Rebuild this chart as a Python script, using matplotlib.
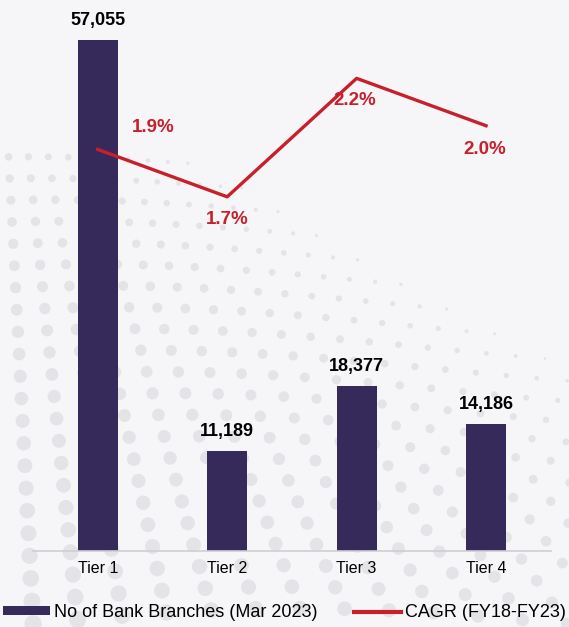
import numpy as np
import matplotlib.pyplot as plt
from matplotlib.patches import Patch
from matplotlib.lines import Line2D

plt.rcParams['font.family'] = ['Liberation Sans', 'DejaVu Sans']

# ---------------------------
# Data
# ---------------------------
tiers = ['Tier 1', 'Tier 2', 'Tier 3', 'Tier 4']
branches = [57055, 11189, 18377, 14186]
cagr = [1.9, 1.7, 2.2, 2.0]

BAR_COLOR = '#352a59'
LINE_COLOR = '#c8202b'
BG_COLOR = '#f6f6f9'
DOT_COLOR = '#e4e4e8'


def draw_halftone(fig):
    # faint dotted backdrop, denser and larger toward the lower left
    bg = fig.add_axes([0, 0, 1, 1], zorder=-10)
    bg.set_xlim(0, 1)
    bg.set_ylim(0, 1)
    bg.axis('off')
    xs, ys, ss = [], [], []
    rows = np.linspace(0.0, 0.72, 22)
    for r in rows:
        spacing = 0.035 + 0.06 * (0.72 - r)
        cols = np.arange(-0.02, 1.03, spacing)
        for c in cols:
            # wave shift so the rows bend
            y = r + 0.03 * np.sin(3.0 * c + 2.0 * r)
            weight = (1 - c) * 0.5 + (0.72 - r) * 1.1
            size = max(0.0, weight - 0.3) * 160
            if size > 3:
                xs.append(c)
                ys.append(y)
                ss.append(size)
    bg.scatter(xs, ys, s=ss, color=DOT_COLOR, linewidths=0)


fig = plt.figure(figsize=(5.69, 6.27), dpi=100)
fig.patch.set_facecolor(BG_COLOR)
draw_halftone(fig)

ax = fig.add_axes([0.058, 0.1212, 0.910, 0.857])
ax.patch.set_alpha(0)
x = np.arange(len(tiers))

bars = ax.bar(x, branches, width=0.31, color=BAR_COLOR, zorder=2)
ax.set_xlim(-0.5, 3.5)
ax.set_ylim(0, 60000)
for xi, v in zip(x, branches):
    ax.annotate(f'{v:,}', (xi, v), xytext=(0, 8), textcoords='offset points',
                ha='center', va='bottom', fontsize=13, fontweight='bold',
                color='black')

for side in ['top', 'right', 'left']:
    ax.spines[side].set_visible(False)
ax.spines['bottom'].set_color('#cfcfd3')
ax.spines['bottom'].set_linewidth(1.2)
ax.set_yticks([])
ax.set_xticks(x)
ax.set_xticklabels(tiers, fontsize=11.5)
ax.tick_params(axis='x', length=0, pad=7)

# CAGR line on a secondary scale
ax2 = ax.twinx()
ax2.plot(x, cagr, color=LINE_COLOR, linewidth=2.4, zorder=3)
ax2.set_ylim(0.205, 2.473)
ax2.set_yticks([])
for side in ['top', 'right', 'left', 'bottom']:
    ax2.spines[side].set_visible(False)

offsets = [(40, 16), (0, -16), (-1, -16), (-1, -17)]
for xi, v, off in zip(x, cagr, offsets):
    ax2.annotate(f'{v:.1f}%', (xi, v), xytext=off, textcoords='offset points',
                 ha='center', va='center', fontsize=13.5, fontweight='bold',
                 color=LINE_COLOR)

handles = [Patch(facecolor=BAR_COLOR, edgecolor='none'),
           Line2D([0], [0], color=LINE_COLOR, linewidth=3)]
labels = ['No of Bank Branches (Mar 2023)', 'CAGR (FY18-FY23)']
fig.legend(handles, labels, loc='center', bbox_to_anchor=(0.5, 0.023),
           ncol=2, frameon=False, fontsize=13, handlelength=2.6,
           handleheight=0.4, handletextpad=0.25, columnspacing=2.0,
           borderaxespad=0)

fig.savefig('out.png', dpi=100, facecolor=BG_COLOR)
